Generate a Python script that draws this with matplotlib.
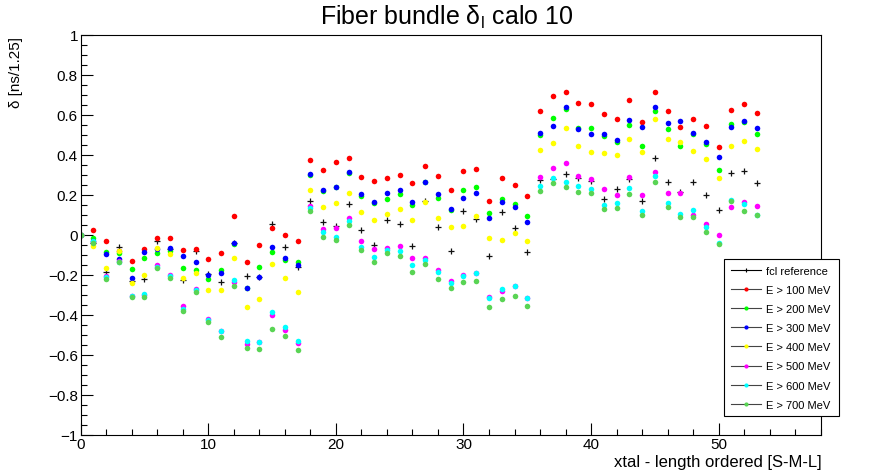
import matplotlib
matplotlib.use("Agg")
import matplotlib.pyplot as plt
from matplotlib.lines import Line2D
from matplotlib.ticker import MultipleLocator, FuncFormatter

plt.rcParams["font.family"] = ["Liberation Sans", "DejaVu Sans"]
plt.rcParams["mathtext.fontset"] = "custom"
plt.rcParams["mathtext.rm"] = "Liberation Sans"
plt.rcParams["mathtext.it"] = "Liberation Sans"

# crystal index 0..53
xtal = list(range(54))

fcl_ref = [0, -0.04, -0.187, -0.06, -0.23, -0.22, -0.03, -0.07, -0.227, -0.082,
           -0.198, -0.235, -0.04, -0.208, -0.21, 0.053, -0.06, -0.163, 0.168, 0.065,
           0.043, 0.153, 0.025, -0.052, 0.075, 0.053, -0.055, 0.167, 0.038, -0.083,
           0.118, 0.078, -0.108, 0.115, 0.032, -0.085, 0.275, 0.28, 0.305, 0.285,
           0.27, 0.18, 0.23, 0.278, 0.167, 0.385, 0.265, 0.215, 0.265, 0.197,
           0.122, 0.307, 0.318, 0.26]

e100 = [0, 0.023, -0.033, -0.08, -0.133, -0.07, -0.015, -0.015, -0.077, -0.072,
        -0.12, -0.093, 0.092, -0.138, -0.05, 0.035, -0.002, -0.03, 0.375, 0.323,
        0.362, 0.383, 0.288, 0.267, 0.285, 0.297, 0.257, 0.342, 0.292, 0.223,
        0.318, 0.328, 0.168, 0.285, 0.25, 0.192, 0.617, 0.695, 0.715, 0.66,
        0.652, 0.602, 0.58, 0.675, 0.565, 0.712, 0.617, 0.538, 0.577, 0.542,
        0.437, 0.622, 0.652, 0.607]

e200 = [0, -0.018, -0.088, -0.093, -0.17, -0.115, -0.092, -0.082, -0.167, -0.175,
        -0.222, -0.175, -0.047, -0.265, -0.163, -0.088, -0.125, -0.138, 0.298, 0.22,
        0.238, 0.308, 0.192, 0.157, 0.18, 0.202, 0.15, 0.265, 0.183, 0.125,
        0.222, 0.238, 0.108, 0.177, 0.155, 0.093, 0.498, 0.583, 0.63, 0.535,
        0.533, 0.492, 0.462, 0.547, 0.443, 0.617, 0.527, 0.442, 0.503, 0.453,
        0.325, 0.555, 0.565, 0.502]

e300 = [0, -0.03, -0.097, -0.123, -0.218, -0.088, -0.07, -0.068, -0.105, -0.135,
        -0.202, -0.192, -0.04, -0.268, -0.21, -0.063, -0.118, -0.152, 0.302, 0.223,
        0.24, 0.313, 0.203, 0.162, 0.208, 0.223, 0.162, 0.262, 0.202, 0.128,
        0.182, 0.207, 0.085, 0.162, 0.137, 0.065, 0.507, 0.545, 0.638, 0.528,
        0.502, 0.503, 0.472, 0.575, 0.537, 0.638, 0.558, 0.567, 0.51, 0.463,
        0.387, 0.54, 0.567, 0.533]

e400 = [0, -0.058, -0.167, -0.08, -0.243, -0.2, -0.068, -0.097, -0.215, -0.19,
        -0.278, -0.278, -0.115, -0.363, -0.322, -0.145, -0.218, -0.287, 0.222, 0.14,
        0.158, 0.208, 0.112, 0.072, 0.102, 0.127, 0.073, 0.162, 0.083, 0.038,
        0.045, 0.092, -0.018, -0.028, 0.007, -0.032, 0.423, 0.46, 0.535, 0.442,
        0.412, 0.408, 0.398, 0.477, 0.413, 0.578, 0.478, 0.462, 0.42, 0.377,
        0.282, 0.442, 0.467, 0.428]

e500 = [0, -0.035, -0.208, -0.13, -0.305, -0.3, -0.15, -0.203, -0.358, -0.27,
        -0.423, -0.483, -0.238, -0.548, -0.535, -0.403, -0.475, -0.54, 0.145, 0.028,
        0.033, 0.085, -0.032, -0.073, -0.067, -0.058, -0.118, -0.118, -0.177, -0.233,
        -0.2, -0.19, -0.312, -0.283, -0.258, -0.315, 0.288, 0.332, 0.357, 0.293,
        0.28, 0.228, 0.2, 0.29, 0.2, 0.313, 0.207, 0.207, 0.098, 0.055,
        -0.003, 0.138, 0.162, 0.143]

e600 = [0, -0.03, -0.213, -0.135, -0.308, -0.297, -0.16, -0.208, -0.37, -0.275,
        -0.428, -0.483, -0.225, -0.532, -0.538, -0.388, -0.46, -0.53, 0.133, 0.012,
        -0.01, 0.068, -0.062, -0.112, -0.078, -0.083, -0.15, -0.125, -0.188, -0.242,
        -0.205, -0.19, -0.315, -0.273, -0.258, -0.317, 0.245, 0.283, 0.265, 0.245,
        0.228, 0.15, 0.157, 0.232, 0.117, 0.292, 0.16, 0.103, 0.122, 0.037,
        -0.04, 0.173, 0.153, 0.1]

e700 = [0, -0.04, -0.222, -0.138, -0.312, -0.312, -0.165, -0.218, -0.38, -0.285,
        -0.437, -0.512, -0.255, -0.567, -0.572, -0.472, -0.505, -0.575, 0.117, -0.01,
        -0.027, 0.05, -0.078, -0.135, -0.093, -0.108, -0.187, -0.147, -0.22, -0.268,
        -0.237, -0.232, -0.36, -0.322, -0.308, -0.357, 0.217, 0.258, 0.238, 0.212,
        0.208, 0.127, 0.132, 0.205, 0.098, 0.265, 0.137, 0.09, 0.088, 0.013,
        -0.045, 0.167, 0.12, 0.097]

labels = ["E > 100 MeV", "E > 200 MeV", "E > 300 MeV", "E > 400 MeV",
          "E > 500 MeV", "E > 600 MeV", "E > 700 MeV"]
series = [e100, e200, e300, e400, e500, e600, e700]
colors = ["#ff0000", "#00ff00", "#0000ff", "#ffff00",
          "#ff00ff", "#00ffff", "#59d454"]

fig = plt.figure(figsize=(8.81, 4.77), dpi=100)
ax = fig.add_axes([0.0916, 0.0866, 0.84, 0.8386])

ax.plot(xtal, fcl_ref, ls="none", marker="+", ms=4.6, mew=0.9, color="#111111")
for vals, col in zip(series, colors):
    ax.plot(xtal, vals, ls="none", marker="o", ms=4.0, mew=0, color=col)

ax.set_xlim(0, 58)
ax.set_ylim(-1, 1)
ax.xaxis.set_major_locator(MultipleLocator(10))
ax.xaxis.set_minor_locator(MultipleLocator(2))
ax.yaxis.set_major_locator(MultipleLocator(0.2))
ax.yaxis.set_minor_locator(MultipleLocator(0.05))
ax.yaxis.set_major_formatter(FuncFormatter(lambda v, p: ("%g" % round(v, 2)).replace("-", "\u2212")))
ax.tick_params(which="both", direction="in", top=False, right=False, labelsize=11, width=0.8)
ax.tick_params(which="major", length=8.5, pad=2)
ax.tick_params(which="minor", length=4.3)
for s in ax.spines.values():
    s.set_linewidth(0.8)

fig.text(447 / 881, 1 - 4 / 477, r"Fiber bundle $\mathregular{\delta_l}$ calo 10",
         ha="center", va="top", fontsize=18)
fig.text(16 / 881, 1 - 36.7 / 477, "\u03b4 [ns/1.25]", rotation=90,
         ha="center", va="top", fontsize=11)
fig.text(821.7 / 881, 1 - 466.7 / 477, "xtal - length ordered [S-M-L]",
         ha="right", va="baseline", fontsize=12)

handles = [Line2D([], [], color="black", lw=0.8, marker="+", ms=3.5, mew=0.8)]
for col in colors:
    handles.append(Line2D([], [], color="#444444", lw=0.8, marker="o", ms=3, mew=0,
                          markerfacecolor=col))
leg = fig.legend(handles, ["fcl reference"] + labels, loc="upper left",
                 bbox_to_anchor=(724 / 881, 1 - 265 / 477, 115 / 881, 0.01),
                 mode="expand", fontsize=8, frameon=True, fancybox=False,
                 edgecolor="black", framealpha=1, borderaxespad=0,
                 handlelength=2.7, handletextpad=0.5, labelspacing=0.82,
                 borderpad=0.6)
leg.get_frame().set_linewidth(0.8)

fig.savefig("out.png", dpi=100)
